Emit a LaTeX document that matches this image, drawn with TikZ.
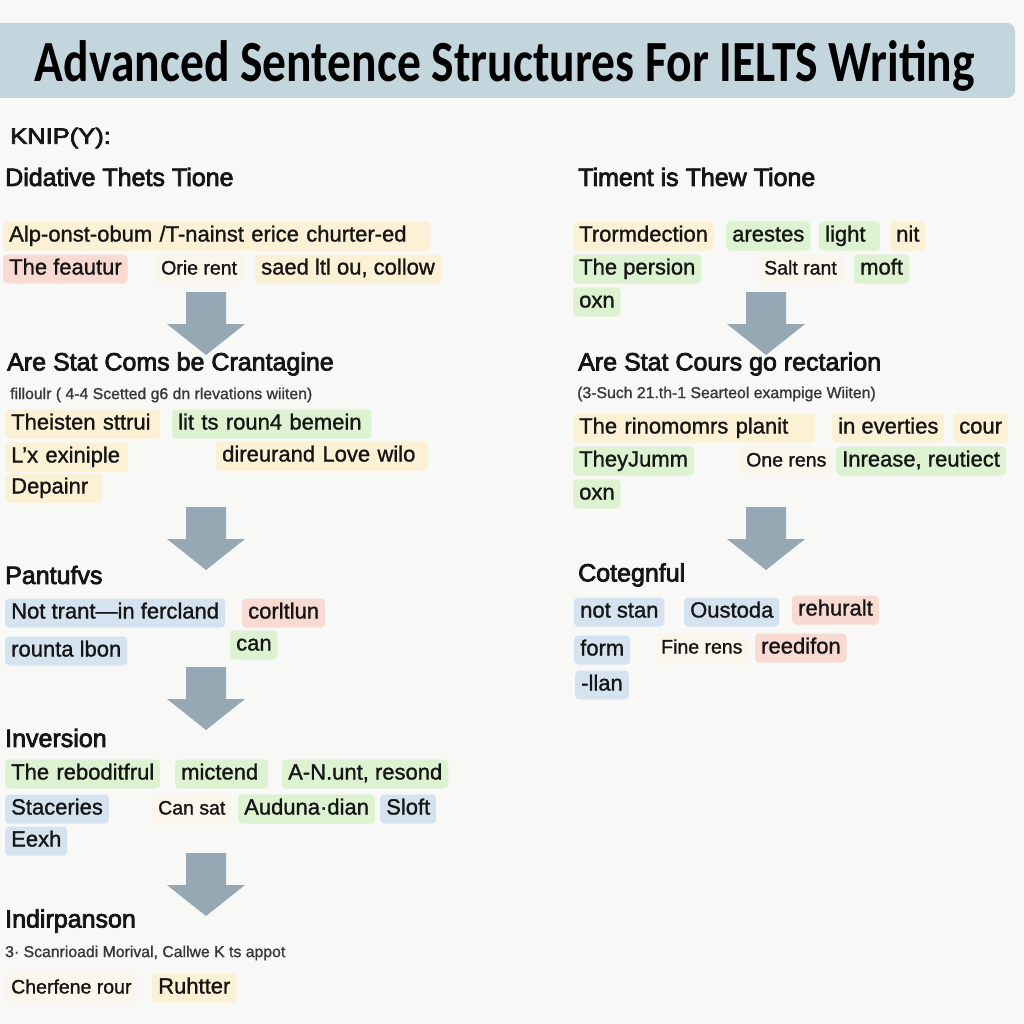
\documentclass[tikz,border=0pt]{standalone}
\usepackage{fontspec}
\setmainfont{Liberation Sans}[FakeBold=1.2]
\newfontfamily\hdfont{Liberation Sans}[FakeBold=3]
\newfontfamily\titlefont{Carlito}
\definecolor{bgc}{HTML}{F8F8F6}
\definecolor{titlec}{HTML}{C3D5DD}
\definecolor{yel}{HTML}{FCF1D4}
\definecolor{gre}{HTML}{DCF2D0}
\definecolor{blu}{HTML}{D5E3F0}
\definecolor{redc}{HTML}{F8DAD3}
\definecolor{faint}{HTML}{FAF6EC}
\definecolor{arrc}{HTML}{95A8B3}
\definecolor{txt}{HTML}{151515}
\tikzset{
  hd/.style={anchor=west, inner sep=0pt, font=\hdfont\fontsize{25}{29}\selectfont, text=txt},
  sub/.style={anchor=west, inner sep=0pt, font=\fontsize{15.8}{18}\selectfont, text=txt!85},
  bx/.style={anchor=west, rounded corners=4pt, inner xsep=6pt, inner ysep=4pt,
    text height=16pt, text depth=5pt, font=\fontsize{22}{26}\selectfont, text=txt},
  bw/.style={text width=#1, align=left},
  yb/.style={bx, fill=yel},
  gb/.style={bx, fill=gre},
  bb/.style={bx, fill=blu},
  rb/.style={bx, fill=redc},
  fb/.style={bx, fill=faint, font=\fontsize{19.5}{23}\selectfont},
  pics/blockarrow/.style={code={
    \fill[arrc] (-20,0) -- (20,0) -- (20,32) -- (39,32) -- (0,63) -- (-39,32) -- (-20,32) -- cycle;}}
}
\begin{document}
\begin{tikzpicture}[x=1pt,y=-1pt]
\useasboundingbox (0,0) rectangle (1024,1024);
\fill[bgc] (0,0) rectangle (1024,1024);
\fill[titlec, rounded corners=8pt] (-20,23) rectangle (1015,98);
\node[anchor=base, inner sep=0pt] (title) at (505,82)
  {\resizebox{940pt}{41pt}{\titlefont\bfseries Advanced Sentence Structures For IELTS Writing}};

\node[anchor=west, inner sep=0pt, font=\hdfont\fontsize{22}{26}\selectfont, text=txt] (k) at (10,138) {\scalebox{1.16}[1]{KNIP(Y):}};

% left column
\node[hd] (h1) at (5,177) {Didative Thets Tione};
\node[yb, bw=415pt] (l1a) at (3,236) {\mbox{Alp-onst-obum /T-nainst erice churter-ed}};
\node[rb] (l1b) at (3,269) {The feautur};
\node[fb] (l1c) at (155,269) {Orie rent};
\node[yb] (l1d) at (255,269) {saed ltl ou, collow};
\pic at (206,292) {blockarrow};
\node[hd] (h2) at (7,364) {Are Stat Coms be Crantagine};
\node[sub] (s2) at (10,395) {filloulr ( 4-4 Scetted g6 dn rlevations wiiten)};
\node[yb, bw=143pt] (l2a) at (5,424) {\mbox{Theisten sttrui}};
\node[gb, bw=187pt] (l2b) at (172,424) {\mbox{lit ts roun4 bemein}};
\node[yb, bw=111pt] (l2c) at (5,457) {\mbox{L'x exiniple}};
\node[yb, bw=200pt] (l2d) at (216,456) {\mbox{direurand Love wilo}};
\node[yb, bw=85pt] (l2e) at (5,488) {\mbox{Depainr}};
\pic at (206,507) {blockarrow};
\node[hd] (h3) at (5,575) {Pantufvs};
\node[bb] (l3a) at (5,613) {Not trant—in fercland};
\node[rb] (l3b) at (242,613) {corltlun};
\node[bb] (l3c) at (5,651) {rounta lbon};
\node[gb] (l3d) at (230,645) {can};
\pic at (206,667) {blockarrow};
\node[hd] (h4) at (5,738) {Inversion};
\node[gb, bw=143pt] (l4a) at (5,774) {\mbox{The reboditfrul}};
\node[gb, bw=81pt] (l4b) at (175,774) {\mbox{mictend}};
\node[gb] (l4c) at (282,774) {A-N.unt, resond};
\node[bb] (l4d) at (5,809) {Staceries};
\node[fb] (l4e) at (152,809) {Can sat};
\node[gb] (l4f) at (238,809) {Auduna·dian};
\node[bb] (l4g) at (380,809) {Sloft};
\node[bb] (l4h) at (5,841) {Eexh};
\pic at (206,853) {blockarrow};
\node[hd] (h5) at (5,921) {Indirpanson};
\node[sub] (s5) at (5,953) {3· Scanrioadi Morival, Callwe K ts appot};
\node[fb] (l5a) at (5,988) {Cherfene rour};
\node[yb] (l5b) at (152,988) {Ruhtter};

% right column
\node[hd] (r1) at (578,177) {Timent is Thew Tione};
\node[yb] (r1a) at (573,236) {Trormdection};
\node[gb] (r1b) at (726,236) {arestes};
\node[gb, bw=49pt] (r1c) at (819,236) {\mbox{light}};
\node[yb] (r1d) at (890,236) {nit};
\node[gb] (r1e) at (573,269) {The persion};
\node[fb] (r1f) at (758,269) {Salt rant};
\node[gb] (r1g) at (854,269) {moft};
\node[gb] (r1h) at (573,302) {oxn};
\pic at (766,292) {blockarrow};
\node[hd] (r2) at (578,364) {Are Stat Cours go rectarion};
\node[sub] (rs2) at (577,394) {(3-Such 21.th-1 Searteol exampige Wiiten)};
\node[yb, bw=230pt] (r2a) at (573,428) {\mbox{The rinomomrs planit}};
\node[yb] (r2b) at (832,428) {in everties};
\node[yb] (r2c) at (953,428) {cour};
\node[gb] (r2d) at (573,461) {TheyJumm};
\node[fb] (r2e) at (740,461) {One rens};
\node[gb] (r2f) at (836,461) {Inrease, reutiect};
\node[gb] (r2g) at (573,494) {oxn};
\pic at (766,507) {blockarrow};
\node[hd] (r3) at (578,575) {Cotegnful};
\node[bb] (r3a) at (574,612) {not stan};
\node[bb] (r3b) at (684,612) {Oustoda};
\node[rb] (r3c) at (792,610) {rehuralt};
\node[bb] (r3d) at (574,650) {form};
\node[fb] (r3e) at (655,648) {Fine rens};
\node[rb] (r3f) at (755,648) {reedifon};
\node[bb] (r3g) at (575,685) {-llan};
\end{tikzpicture}
\end{document}
